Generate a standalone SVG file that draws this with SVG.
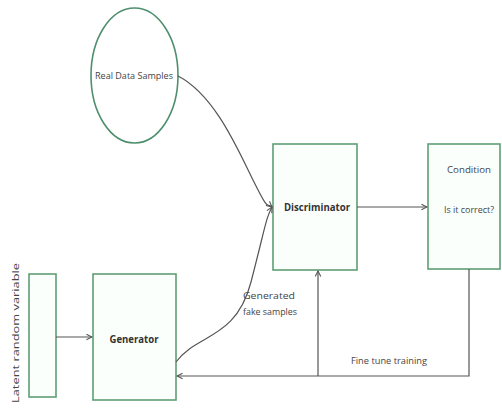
<svg xmlns="http://www.w3.org/2000/svg" width="502" height="412" viewBox="0 0 502 412">
<style>
.box{fill:#fbfffc;stroke:#5f9e74;stroke-width:1.6}
.ell{fill:#ffffff;stroke:#4f8f6f;stroke-width:1.6}
.ln{fill:none;stroke:#555;stroke-width:1.2}
.t{font-family:"Open Sans","Liberation Sans",sans-serif;font-size:9px;fill:#444}
.b{font-family:"Open Sans","Liberation Sans",sans-serif;font-size:10px;font-weight:bold;fill:#333}
</style>
<defs>
<marker id="ah" viewBox="0 0 10 10" refX="9" refY="5" markerWidth="7" markerHeight="7" orient="auto" markerUnits="userSpaceOnUse">
<path d="M1,1 L9,5 L1,9" fill="none" stroke="#555" stroke-width="1.5"/>
</marker>
</defs>
<rect width="502" height="412" fill="#ffffff"/>
<g id="real-data">
<ellipse class="ell" cx="134.5" cy="75.5" rx="43.5" ry="67.5"/>
<text class="t" x="134" y="79" text-anchor="middle" textLength="78" lengthAdjust="spacingAndGlyphs">Real Data Samples</text>
</g>
<g id="discriminator">
<rect class="box" x="273" y="144" width="84" height="126"/>
<text class="b" x="317" y="211" text-anchor="middle" textLength="66" lengthAdjust="spacingAndGlyphs">Discriminator</text>
</g>
<g id="condition">
<rect class="box" x="428" y="144" width="72" height="125"/>
<text class="t" x="469" y="173" text-anchor="middle" textLength="44" lengthAdjust="spacingAndGlyphs">Condition</text>
<text class="t" x="469" y="213" text-anchor="middle" textLength="50" lengthAdjust="spacingAndGlyphs">Is it correct?</text>
</g>
<g id="generator">
<rect class="box" x="93" y="274" width="83" height="126"/>
<text class="b" x="134" y="343" text-anchor="middle" textLength="49" lengthAdjust="spacingAndGlyphs">Generator</text>
</g>
<g id="latent">
<rect class="box" x="29" y="274" width="27" height="123"/>
<text class="t" transform="translate(19,333) rotate(-90)" x="0" y="0" text-anchor="middle" textLength="140" lengthAdjust="spacingAndGlyphs">Latent random variable</text>
</g>
<g id="connectors">
<path class="ln" d="M178,76 C215,95 238,150 254,182 S266,202 272,207" marker-end="url(#ah)"/>
<path class="ln" d="M176,362 C196,334 236,340 251,282 S266,218 272,207" marker-end="url(#ah)"/>
<line class="ln" x1="357" y1="207" x2="427" y2="207" marker-end="url(#ah)"/>
<line class="ln" x1="56" y1="337" x2="92" y2="337" marker-end="url(#ah)"/>
<polyline class="ln" points="469,269 469,376 177,376" marker-end="url(#ah)"/>
<line class="ln" x1="318" y1="376" x2="318" y2="271" marker-end="url(#ah)"/>
<text class="t" x="243" y="299" textLength="52" lengthAdjust="spacingAndGlyphs">Generated</text>
<text class="t" x="243" y="315" textLength="54" lengthAdjust="spacingAndGlyphs">fake samples</text>
<text class="t" x="351" y="364" textLength="76" lengthAdjust="spacingAndGlyphs">Fine tune training</text>
</g>
</svg>
